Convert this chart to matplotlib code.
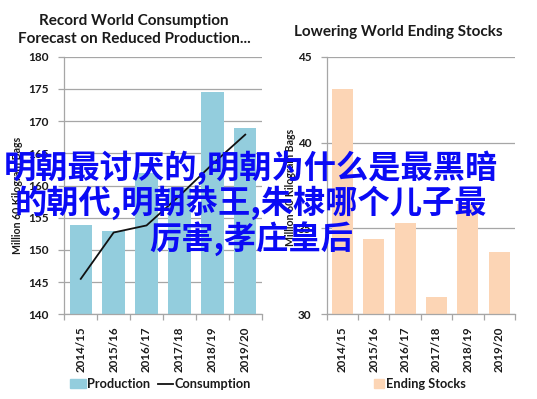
import matplotlib
matplotlib.use("Agg")
import matplotlib.pyplot as plt
from matplotlib.lines import Line2D
from matplotlib.patches import Patch

categories = ['2014/15', '2015/16', '2016/17', '2017/18', '2018/19', '2019/20']
production = [153.8, 152.9, 161.9, 159.6, 174.5, 169.0]
consumption = [145.5, 152.7, 153.8, 158.4, 163.3, 167.9]
ending_stocks = [43.1, 34.4, 35.3, 31.0, 36.4, 33.6]

left_title = "Record World Consumption\nForecast on Reduced Production..."
right_title = "Lowering World Ending Stocks"
ylabel = "Million 60 Kilogram Bags"
overlay = "明朝最讨厌的,明朝为什么是最黑暗\n的朝代,明朝恭王,朱棣哪个儿子最\n厉害,孝庄皇后"

plt.rcParams['font.family'] = ['Lato', 'DejaVu Sans']

W, H = 537, 399
fig = plt.figure(figsize=(W / 100, H / 100), dpi=100)
fig.patch.set_facecolor('white')

def px(x0, y0, x1, y1):
    return [x0 / W, 1 - y1 / H, (x1 - x0) / W, (y1 - y0) / H]

grid_c = '#a6a6a6'
tick_c = '#1a1a1a'

def style(ax, ymin, ymax, step):
    x = list(range(len(categories)))
    ax.set_xlim(-0.5, len(categories) - 0.5)
    ax.set_ylim(ymin, ymax)
    ax.set_yticks(list(range(ymin, ymax + 1, step)))
    ax.yaxis.grid(True, color=grid_c, linewidth=0.9)
    ax.set_axisbelow(True)
    for s in ['top', 'right']:
        ax.spines[s].set_visible(False)
    for s in ['left', 'bottom']:
        ax.spines[s].set_color(grid_c)
        ax.spines[s].set_linewidth(0.9)
    ax.set_xticks(x)
    ax.set_xticklabels(categories, rotation=90, fontsize=8.3, fontweight='bold', color=tick_c)
    ax.set_xticks([i - 0.5 for i in range(len(categories) + 1)], minor=True)
    ax.tick_params(axis='x', which='major', length=0, pad=9)
    ax.tick_params(axis='x', which='minor', length=4, color=grid_c, width=0.9)
    ax.tick_params(axis='y', length=4, color=grid_c, width=0.9, pad=7)
    for lb in ax.get_yticklabels():
        lb.set_fontsize(8.5)
        lb.set_fontweight('bold')
        lb.set_color(tick_c)

leg_prop = {'size': 9.2, 'weight': 'bold'}

# Left chart
ax1 = fig.add_axes(px(64.3, 56.7, 261.7, 314.3))
x = list(range(len(categories)))
ax1.bar(x, production, width=0.68, color='#93cddd', zorder=2)
ax1.plot(x, consumption, color='#111111', linewidth=1.3, zorder=3)
style(ax1, 140, 180, 5)
ax1.legend(handles=[Patch(color='#93cddd', label='Production'),
                    Line2D([], [], color='#111111', linewidth=1.3, label='Consumption')],
           loc='center', bbox_to_anchor=(160.5 / W, 1 - 384 / H), bbox_transform=fig.transFigure,
           ncol=2, frameon=False, prop=leg_prop, handlelength=1.2, handletextpad=0.1,
           columnspacing=0.6, borderpad=0, labelcolor='#1a1a1a')

# Right chart
ax2 = fig.add_axes(px(326.7, 56.7, 515, 314.3))
ax2.bar(x, ending_stocks, width=0.67, color='#fcd5b5', zorder=2)
style(ax2, 30, 45, 5)
ax2.legend(handles=[Patch(color='#fcd5b5', label='Ending Stocks')],
           loc='center', bbox_to_anchor=(420 / W, 1 - 384 / H), bbox_transform=fig.transFigure,
           frameon=False, prop=leg_prop, handlelength=0.8, handletextpad=0.15,
           borderpad=0, labelcolor='#1a1a1a')

# Titles
fig.text(134 / W, 1 - 30 / H, left_title, ha='center', va='center', fontsize=11,
         fontweight='bold', color='#1a1a1a', linespacing=1.45)
fig.text(398.5 / W, 1 - 32 / H, right_title, ha='center', va='center', fontsize=11,
         fontweight='bold', color='#1a1a1a')

# Y labels
fig.text(17.5 / W, 1 - 195 / H, ylabel, rotation=90, ha='center', va='center',
         fontsize=7.6, fontweight='bold', color='#1a1a1a')
fig.text(291 / W, 1 - 187.5 / H, ylabel, rotation=90, ha='center', va='center',
         fontsize=7.6, fontweight='bold', color='#1a1a1a')

# Overlay text
fig.text(251 / W, 1 - 203 / H, overlay, ha='center', va='center', multialignment='center',
         fontsize=23.2, fontweight='bold', color='#0a0af5', linespacing=1.02,
         family=['Noto Sans CJK SC', 'DejaVu Sans'], zorder=10)

fig.savefig('out.png', dpi=100, facecolor='white')
